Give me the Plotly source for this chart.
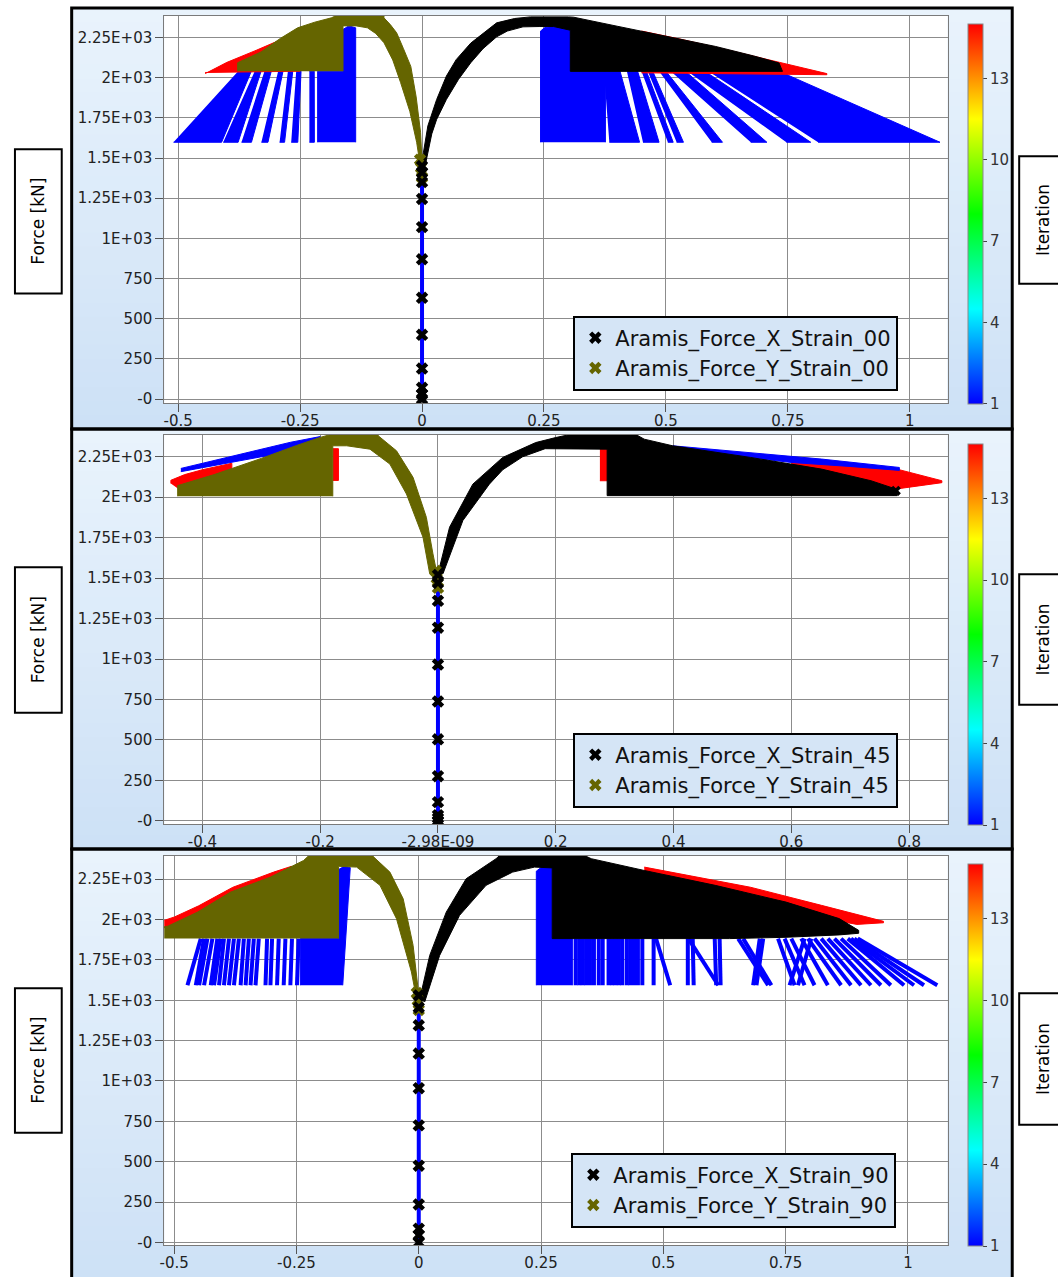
import plotly.graph_objects as go

W, H = 1058, 1277

# ---------------------------------------------------------------- tick labels
force_ticks = [0, 250, 500, 750, 1000, 1250, 1500, 1750, 2000, 2250]
force_tick_text = ["-0", "250", "500", "750", "1E+03", "1.25E+03", "1.5E+03",
                   "1.75E+03", "2E+03", "2.25E+03"]
strain_ticks_00 = [-0.5, -0.25, 0, 0.25, 0.5, 0.75, 1]
strain_tick_text_00 = ["-0.5", "-0.25", "0", "0.25", "0.5", "0.75", "1"]
strain_ticks_45 = [-0.4, -0.2, 0, 0.2, 0.4, 0.6, 0.8]
strain_tick_text_45 = ["-0.4", "-0.2", "-2.98E-09", "0.2", "0.4", "0.6", "0.8"]
strain_ticks_90 = [-0.5, -0.25, 0, 0.25, 0.5, 0.75, 1]
strain_tick_text_90 = ["-0.5", "-0.25", "0", "0.25", "0.5", "0.75", "1"]
iteration_ticks = [1, 4, 7, 10, 13]
iteration_min, iteration_max = 1, 15

# ================================================================ Strain_00
axial_strain_00 = [0, 0]
axial_force_00 = [0, 1500]
axial_iter_00 = [1, 1]
x_marker_strain_00 = [0, 0, 0, 0, 0, 0, 0, 0, 0, 0, 0, 0]
x_marker_force_00 = [0, 30, 70, 190, 400, 630, 870, 1070, 1245, 1350, 1410, 1450]
y_marker_strain_00 = [0, -0.002, -0.004]
y_marker_force_00 = [1380, 1440, 1490]

black_00_strain = [0.0, 0.003, 0.012, 0.030, 0.050, 0.070, 0.100, 0.126, 0.153, 0.190, 0.222,
                   0.300, 0.311, 0.400, 0.500, 0.602, 0.680, 0.732, 0.739, 0.304, 0.304,
                   0.270, 0.240, 0.207, 0.175, 0.153, 0.125, 0.100, 0.075, 0.050, 0.030,
                   0.020, 0.007]
black_00_force = [1460, 1536, 1700, 1864, 2010, 2112, 2215, 2279, 2341, 2368, 2378,
                  2378, 2376, 2320, 2256, 2194, 2135, 2091, 2039, 2039, 2295,
                  2318, 2318, 2316, 2290, 2254, 2180, 2093, 1990, 1864, 1740,
                  1650, 1460]
olive_00_strain = [-0.378, -0.378, -0.330, -0.290, -0.255, -0.220, -0.186, -0.166, -0.078,
                   -0.078, -0.065, -0.052, -0.038, -0.023, -0.012, -0.003, 0.000, -0.004,
                   -0.011, -0.025, -0.044, -0.060, -0.078, -0.095, -0.112, -0.135, -0.162,
                   -0.162]
olive_00_force = [2040, 2093, 2160, 2245, 2310, 2345, 2372, 2400, 2400,
                  2372, 2330, 2279, 2180, 2070, 1880, 1660, 1480, 1460,
                  1598, 1790, 1970, 2110, 2217, 2275, 2310, 2322, 2322,
                  2040]
red_00_strain = [-0.4446, -0.400, -0.340, -0.2818, -0.250, -0.250, -0.4446, None,
                 0.450, 0.529, 0.632, 0.732, 0.830, 0.830, 0.500, 0.450]
red_00_force = [2025, 2095, 2170, 2246, 2280, 2040, 2032, None,
                2290, 2240, 2168, 2096, 2025, 2018, 2030, 2030]
blue_00_strain = [0.243, 0.243, 0.252, 0.275, 0.304, 0.304, 0.376, 0.376, None,
                  -0.214, -0.214, -0.162, -0.162, -0.150, -0.136, -0.136]
blue_00_force = [1598, 2290, 2312, 2320, 2320, 2040, 2040, 1598, None,
                 1598, 2040, 2040, 2300, 2322, 2310, 1598]
fan_top_force_00, fan_bottom_force_00 = 2040, 1598
fan_top_lo_00 = [0.373, 0.420, 0.450, 0.463, 0.486, 0.510, 0.544, 0.587,
                 -0.377, -0.343, -0.323, -0.295, -0.275, -0.258, -0.231]
fan_top_hi_00 = [0.406, 0.442, 0.460, 0.473, 0.500, 0.540, 0.580, 0.732,
                 -0.350, -0.330, -0.309, -0.285, -0.265, -0.248, -0.221]
fan_bot_lo_00 = [0.384, 0.453, 0.504, 0.522, 0.594, 0.674, 0.747, 0.812,
                 -0.5095, -0.4076, -0.3701, -0.3293, -0.2920, -0.2682, -0.2309]
fan_bot_hi_00 = [0.446, 0.486, 0.515, 0.536, 0.616, 0.707, 0.797, 1.062,
                 -0.4109, -0.3770, -0.3497, -0.3158, -0.2818, -0.2547, -0.2207]

# ================================================================ Strain_45
axial_strain_45 = [0, 0]
axial_force_45 = [0, 1540]
axial_iter_45 = [1, 1]
x_marker_strain_45 = [0, 0, 0, 0, 0, 0, 0, 0, 0, 0, 0, 0]
x_marker_force_45 = [0, 17, 35, 116, 276, 504, 738, 966, 1194, 1360, 1470, 1520]
y_marker_strain_45 = [0, -0.002, -0.004]
y_marker_force_45 = [1440, 1500, 1545]
tip_marker_strain_45 = [0.7774]
tip_marker_force_45 = [2040]

black_45_strain = [0.000, 0.0197, 0.0592, 0.1099, 0.166, 0.200, 0.240, 0.330, 0.3503, 0.3985,
                   0.5308, 0.6512, 0.7354, 0.7774, 0.780, 0.2873, 0.2873, 0.242, 0.182,
                   0.1437, 0.110, 0.0873, 0.0423, 0.0085]
black_45_force = [1527, 1815, 2081, 2246, 2338, 2369, 2400, 2400, 2359, 2318,
                  2246, 2174, 2102, 2051, 2010, 2010, 2297, 2297, 2300,
                  2250, 2170, 2081, 1856, 1527]
olive_45_strain = [-0.442, -0.442, -0.380, -0.300, -0.240, -0.200, -0.170, -0.1014, -0.1014,
                   -0.0704, -0.0423, -0.0197, -0.0085, -0.0028, -0.005, -0.014, -0.0254,
                   -0.0535, -0.0817, -0.1155, -0.155, -0.1786, -0.1786]
olive_45_force = [2006, 2072, 2140, 2240, 2320, 2370, 2400, 2400, 2380,
                  2287, 2123, 1876, 1650, 1548, 1500, 1527, 1753,
                  2020, 2205, 2297, 2318, 2318, 2006]
red_45_strain = [-0.4535, -0.4535, -0.430, -0.400, -0.350, -0.350, -0.440, None,
                 -0.1786, -0.169, -0.169, -0.1786, None,
                 0.275, 0.2874, 0.2874, 0.275, None,
                 0.600, 0.700, 0.7835, 0.8557, 0.8557, 0.776, 0.600]
red_45_force = [2085, 2105, 2140, 2170, 2210, 2050, 2050, None,
                2104, 2104, 2300, 2300, None,
                2102, 2102, 2297, 2297, None,
                2215, 2195, 2170, 2102, 2090, 2050, 2100]
blue_45_strain = [-0.4366, -0.370, -0.300, -0.250, -0.200, -0.200, -0.300, -0.350, -0.400,
                  -0.4366, None,
                  0.3985, 0.5308, 0.6512, 0.7835, 0.7835, 0.700, 0.600, 0.400]
blue_45_force = [2178, 2235, 2295, 2340, 2375, 2250, 2250, 2215, 2180,
                 2158, None,
                 2318, 2276, 2236, 2184, 2166, 2190, 2215, 2300]

# ================================================================ Strain_90
axial_strain_90 = [0, 0]
axial_force_90 = [0, 1530]
axial_iter_90 = [1, 1]
x_marker_strain_90 = [0, 0, 0, 0, 0, 0, 0, 0, 0, 0, 0]
x_marker_force_90 = [0, 45, 85, 235, 475, 725, 955, 1170, 1345, 1455, 1530]
y_marker_strain_90 = [0, -0.002, -0.004]
y_marker_force_90 = [1440, 1500, 1545]

black_90_strain = [0.000, 0.0053, 0.0224, 0.0562, 0.0969, 0.158, 0.170, 0.330, 0.3526, 0.4611,
                   0.6059, 0.7508, 0.8594, 0.8993, 0.8993, 0.860, 0.750, 0.635, 0.2728,
                   0.2728, 0.2366, 0.1919, 0.1376, 0.0834, 0.0427, 0.0122]
black_90_force = [1500, 1551, 1778, 2046, 2253, 2377, 2410, 2410, 2377, 2304,
                  2212, 2108, 2006, 1933, 1915, 1905, 1890, 1882, 1882,
                  2320, 2325, 2294, 2212, 2026, 1778, 1490]
olive_90_strain = [-0.540, -0.540, -0.513, -0.4525, -0.3846, -0.3032, -0.2354, -0.220, -0.093,
                   -0.093, -0.059, -0.0319, -0.0116, -0.0014, -0.004, -0.015, -0.0455,
                   -0.0793, -0.127, -0.164, -0.164]
olive_90_force = [1882, 1945, 1959, 2046, 2170, 2263, 2366, 2410, 2410,
                  2390, 2294, 2129, 1840, 1572, 1500, 1675, 2005,
                  2212, 2325, 2330, 1882]
red_90_strain = [-0.540, -0.4995, -0.450, -0.380, -0.2965, -0.260, -0.260, -0.540, None,
                 0.4611, 0.6783, 0.8232, 0.950, 0.950, 0.8956, 0.8594, 0.700, 0.460]
red_90_force = [1975, 2016, 2085, 2200, 2294, 2330, 1950, 1950, None,
                2325, 2200, 2088, 1989, 1980, 1970, 1990, 2100, 2250]
blue_90_strain = [-0.2421, -0.2421, -0.164, -0.164, -0.152, -0.140, -0.1554, None,
                  0.2403, 0.2403, 0.250, 0.2728, 0.2728, 0.3140, 0.3140]
blue_90_force = [1593, 1882, 1882, 2310, 2330, 2322, 1593, None,
                 1593, 2300, 2322, 2325, 1882, 1882, 1593]
fan_top_force_90, fan_bottom_force_90 = 1882, 1593
fan_line_top_90 = [-0.4456, -0.4389, -0.4321, -0.4219, -0.4118, -0.4049, -0.3982, -0.3880,
                   -0.3778, -0.3677, -0.3575, -0.3473, -0.3371, -0.3270, -0.3101, -0.2999,
                   -0.2863, -0.2726, -0.2592, -0.2456,
                   0.3207, 0.3280, 0.3350, 0.3420, 0.3500, 0.3581, 0.3680, 0.3760,
                   0.3880, 0.3950, 0.4020, 0.4090, 0.4157, 0.4250, 0.4320, 0.4400, 0.4480,
                   0.4570, 0.4801, 0.4850,
                   0.5500, 0.5600, 0.5513, 0.6050, 0.6150,
                   0.6530, 0.6632, 0.6971, 0.7040,
                   0.7345, 0.7479, 0.7615, 0.7819, 0.7955, 0.8090, 0.8226, 0.8362, 0.8497,
                   0.8633, 0.8769, 0.8836, 0.8904, 0.8973, 0.7886, 0.8022]
fan_line_bottom_90 = [-0.4728, -0.4558, -0.4490, -0.4389, -0.4252, -0.4185, -0.4083, -0.3982,
                      -0.3880, -0.3778, -0.3642, -0.3540, -0.3439, -0.3337, -0.3133, -0.3032,
                      -0.2897, -0.2761, -0.2625, -0.2490,
                      0.3207, 0.3280, 0.3350, 0.3420, 0.3500, 0.3581, 0.3680, 0.3760,
                      0.3880, 0.3950, 0.4020, 0.4090, 0.4157, 0.4250, 0.4320, 0.4400, 0.4480,
                      0.4570, 0.4801, 0.5140,
                      0.5500, 0.5620, 0.6123, 0.6080, 0.6170,
                      0.7141, 0.7208, 0.6836, 0.6903,
                      0.7683, 0.7886, 0.8090, 0.8362, 0.8633, 0.8836, 0.9040, 0.9243, 0.9447,
                      0.9650, 0.9921, 1.0124, 1.0328, 1.0600, 0.7581, 0.7752]

# ---------------------------------------------------------------- styling
BLUE, RED, OLIVE, BLACK = "#0000ff", "#ff0000", "#656500", "#000000"
JET = [[0.0, "rgb(0,0,255)"], [0.25, "rgb(0,255,255)"], [0.5, "rgb(0,255,0)"],
       [0.75, "rgb(255,255,0)"], [1.0, "rgb(255,0,0)"]]
FONT = "DejaVu Sans"

def fx(px):
    return px / W

def fy(py):
    return 1 - py / H

panels = [
    dict(name="00", xa="x", ya="y", leg="legend", plot=(160, 947, 16, 405), box=(67, 1012, 8, 431),
         xr=[-0.5285, 1.0774], yr=[-25, 2384], cb=(25, 405), legpos=(571, 317),
         fbox=(10, 57, 150, 295), ibox=(1019, 1070, 157, 285),
         xt=(strain_ticks_00, strain_tick_text_00)),
    dict(name="45", xa="x2", ya="y2", leg="legend2", plot=(160, 947, 437, 828), box=(67, 1012, 431, 853),
         xr=[-0.4648, 0.8653], yr=[-20, 2385], cb=(447, 828), legpos=(571, 736),
         fbox=(10, 57, 570, 716), ibox=(1019, 1070, 577, 708),
         xt=(strain_ticks_45, strain_tick_text_45)),
    dict(name="90", xa="x3", ya="y3", leg="legend3", plot=(160, 947, 860, 1251), box=(67, 1012, 853, 1290),
         xr=[-0.5203, 1.0809], yr=[-17, 2394], cb=(869, 1251), legpos=(569, 1158),
         fbox=(10, 57, 993, 1138), ibox=(1019, 1070, 998, 1130),
         xt=(strain_ticks_90, strain_tick_text_90)),
]

fig = go.Figure()

def poly(xs, ys, color, p):
    fig.add_trace(go.Scatter(x=xs, y=ys, mode="lines", fill="toself", fillcolor=color,
                             line=dict(color=color, width=1), xaxis=p["xa"], yaxis=p["ya"],
                             showlegend=False, hoverinfo="skip"))

def band_polys(lo_t, hi_t, lo_b, hi_b, ftop, fbot):
    xs, ys = [], []
    for a, b, c, d in zip(lo_t, hi_t, hi_b, lo_b):
        xs += [a, b, c, d, None]
        ys += [ftop, ftop, fbot, fbot, None]
    return xs, ys

def fan_lines(tops, bots, ftop, fbot):
    xs, ys = [], []
    for t, b in zip(tops, bots):
        xs += [t, b, None]
        ys += [ftop, fbot, None]
    return xs, ys

data = {
    "00": dict(axial=(axial_strain_00, axial_force_00, axial_iter_00),
               xm=(x_marker_strain_00, x_marker_force_00), ym=(y_marker_strain_00, y_marker_force_00),
               black=(black_00_strain, black_00_force), olive=(olive_00_strain, olive_00_force),
               red=(red_00_strain, red_00_force), blue=(blue_00_strain, blue_00_force),
               fan_polys=band_polys(fan_top_lo_00, fan_top_hi_00, fan_bot_lo_00, fan_bot_hi_00,
                                    fan_top_force_00, fan_bottom_force_00)),
    "45": dict(axial=(axial_strain_45, axial_force_45, axial_iter_45),
               xm=(x_marker_strain_45, x_marker_force_45), ym=(y_marker_strain_45, y_marker_force_45),
               black=(black_45_strain, black_45_force), olive=(olive_45_strain, olive_45_force),
               red=(red_45_strain, red_45_force), blue=(blue_45_strain, blue_45_force),
               tip=(tip_marker_strain_45, tip_marker_force_45)),
    "90": dict(axial=(axial_strain_90, axial_force_90, axial_iter_90),
               xm=(x_marker_strain_90, x_marker_force_90), ym=(y_marker_strain_90, y_marker_force_90),
               black=(black_90_strain, black_90_force), olive=(olive_90_strain, olive_90_force),
               red=(red_90_strain, red_90_force), blue=(blue_90_strain, blue_90_force),
               fan_lines=fan_lines(fan_line_top_90, fan_line_bottom_90,
                                   fan_top_force_90, fan_bottom_force_90)),
}

for p in panels:
    d = data[p["name"]]
    if "fan_polys" in d:
        poly(d["fan_polys"][0], d["fan_polys"][1], BLUE, p)
    if "fan_lines" in d:
        fig.add_trace(go.Scatter(x=d["fan_lines"][0], y=d["fan_lines"][1], mode="lines",
                                 line=dict(color=BLUE, width=4), xaxis=p["xa"], yaxis=p["ya"],
                                 showlegend=False, hoverinfo="skip"))
    if p["name"] == "45":
        poly(d["red"][0], d["red"][1], RED, p)
        poly(d["blue"][0], d["blue"][1], BLUE, p)
    else:
        poly(d["blue"][0], d["blue"][1], BLUE, p)
        poly(d["red"][0], d["red"][1], RED, p)
    # axial (iteration-coloured) line carrying the colour bar
    cb0, cb1 = p["cb"]
    fig.add_trace(go.Scatter(
        x=d["axial"][0], y=d["axial"][1], mode="lines+markers",
        line=dict(color=BLUE, width=4),
        marker=dict(size=3, color=d["axial"][2], colorscale=JET, cmin=iteration_min,
                    cmax=iteration_max, showscale=True,
                    colorbar=dict(x=fx(968), xanchor="left", xpad=0, ypad=0,
                                  y=fy((cb0 + cb1) / 2), yanchor="middle",
                                  len=cb1 - cb0, lenmode="pixels", thickness=15,
                                  tickvals=iteration_ticks, ticks="outside", ticklen=4,
                                  tickcolor="#444", tickfont=dict(family=FONT, size=15, color="#333"),
                                  outlinewidth=1, outlinecolor="#888",
                                  bgcolor="rgba(0,0,0,0)")),
        xaxis=p["xa"], yaxis=p["ya"], showlegend=False, hoverinfo="skip"))
    poly(d["olive"][0], d["olive"][1], OLIVE, p)
    poly(d["black"][0], d["black"][1], BLACK, p)
    fig.add_trace(go.Scatter(x=d["ym"][0], y=d["ym"][1], mode="markers",
                             marker=dict(symbol="x", size=11, color=OLIVE),
                             name="Aramis_Force_Y_Strain_" + p["name"], legend=p["leg"],
                             legendrank=2, xaxis=p["xa"], yaxis=p["ya"], hoverinfo="skip"))
    fig.add_trace(go.Scatter(x=d["xm"][0], y=d["xm"][1], mode="markers",
                             marker=dict(symbol="x", size=11, color=BLACK),
                             name="Aramis_Force_X_Strain_" + p["name"], legend=p["leg"],
                             legendrank=1, xaxis=p["xa"], yaxis=p["ya"], hoverinfo="skip"))
    if "tip" in d:
        fig.add_trace(go.Scatter(x=d["tip"][0], y=d["tip"][1], mode="markers",
                                 marker=dict(symbol="x", size=9, color=BLACK),
                                 xaxis=p["xa"], yaxis=p["ya"], showlegend=False,
                                 hoverinfo="skip"))

# ---------------------------------------------------------------- layout
shapes, annotations = [], []
top_c, bot_c = (233, 243, 252), (205, 225, 246)
for p in panels:
    x0, x1, y0, y1 = p["box"]
    steps = 30
    for i in range(steps):
        t = i / (steps - 1)
        c = tuple(round(top_c[k] + (bot_c[k] - top_c[k]) * t) for k in range(3))
        ya = y0 + (y1 - y0) * i / steps
        yb = y0 + (y1 - y0) * (i + 1) / steps + 1
        shapes.append(dict(type="rect", xref="paper", yref="paper", layer="below",
                           x0=fx(x0), x1=fx(x1), y0=fy(ya), y1=fy(yb),
                           fillcolor="rgb(%d,%d,%d)" % c, line=dict(width=0)))
    px0, px1, py0, py1 = p["plot"]
    shapes.append(dict(type="rect", xref="paper", yref="paper", layer="below",
                       x0=fx(px0), x1=fx(px1), y0=fy(py1), y1=fy(py0),
                       fillcolor="white", line=dict(width=0)))
    shapes.append(dict(type="rect", xref="paper", yref="paper", layer="above",
                       x0=fx(x0), x1=fx(x1), y0=fy(y1), y1=fy(y0),
                       fillcolor="rgba(0,0,0,0)", line=dict(color="black", width=3)))
    for (bx0, bx1, by0, by1) in (p["fbox"], p["ibox"]):
        shapes.append(dict(type="rect", xref="paper", yref="paper", layer="above",
                           x0=fx(bx0), x1=fx(bx1), y0=fy(by1), y1=fy(by0),
                           fillcolor="white", line=dict(color="black", width=2)))
    fb = p["fbox"]
    annotations.append(dict(xref="paper", yref="paper", x=fx((fb[0] + fb[1]) / 2),
                            y=fy((fb[2] + fb[3]) / 2), text="Force [kN]", textangle=-90,
                            showarrow=False, font=dict(family=FONT, size=17, color="black"),
                            xanchor="center", yanchor="middle"))
    ib = p["ibox"]
    annotations.append(dict(xref="paper", yref="paper", x=fx(1043),
                            y=fy((ib[2] + ib[3]) / 2), text="Iteration", textangle=-90,
                            showarrow=False, font=dict(family=FONT, size=17, color="black"),
                            xanchor="center", yanchor="middle"))

axis_common = dict(showgrid=True, gridcolor="#8c8c8c", gridwidth=1, zeroline=False,
                   showline=True, linecolor="#7a7a7a", linewidth=1, mirror=True,
                   ticks="outside", ticklen=8, tickcolor="#555", tickwidth=1,
                   tickfont=dict(family=FONT, size=15, color="#222"), fixedrange=True)

layout = dict(width=W, height=H, margin=dict(l=0, r=0, t=0, b=0),
              paper_bgcolor="white", plot_bgcolor="white", shapes=shapes,
              annotations=annotations, showlegend=True, hovermode=False)

for i, p in enumerate(panels):
    sx = "" if i == 0 else str(i + 1)
    px0, px1, py0, py1 = p["plot"]
    layout["xaxis" + sx] = dict(axis_common, domain=[fx(px0), fx(px1)], range=p["xr"],
                                anchor="y" + sx, tickmode="array", tickvals=p["xt"][0],
                                ticktext=p["xt"][1], ticklabelstandoff=-4)
    layout["yaxis" + sx] = dict(axis_common, domain=[fy(py1), fy(py0)], range=p["yr"],
                                anchor="x" + sx, tickmode="array", tickvals=force_ticks,
                                ticktext=force_tick_text)
    lx, ly = p["legpos"]
    layout[p["leg"]] = dict(x=fx(lx), y=fy(ly), xanchor="left", yanchor="top",
                            xref="paper", yref="paper",
                            bgcolor="#d5e5f6", bordercolor="black", borderwidth=2,
                            font=dict(family=FONT, size=21, color="#111"),
                            tracegroupgap=0, itemclick=False, itemdoubleclick=False)

fig.update_layout(**layout)
fig.write_html("out.html", config={"displayModeBar": False},
               post_script="document.body.style.margin='0px';document.body.style.overflow='hidden';")
